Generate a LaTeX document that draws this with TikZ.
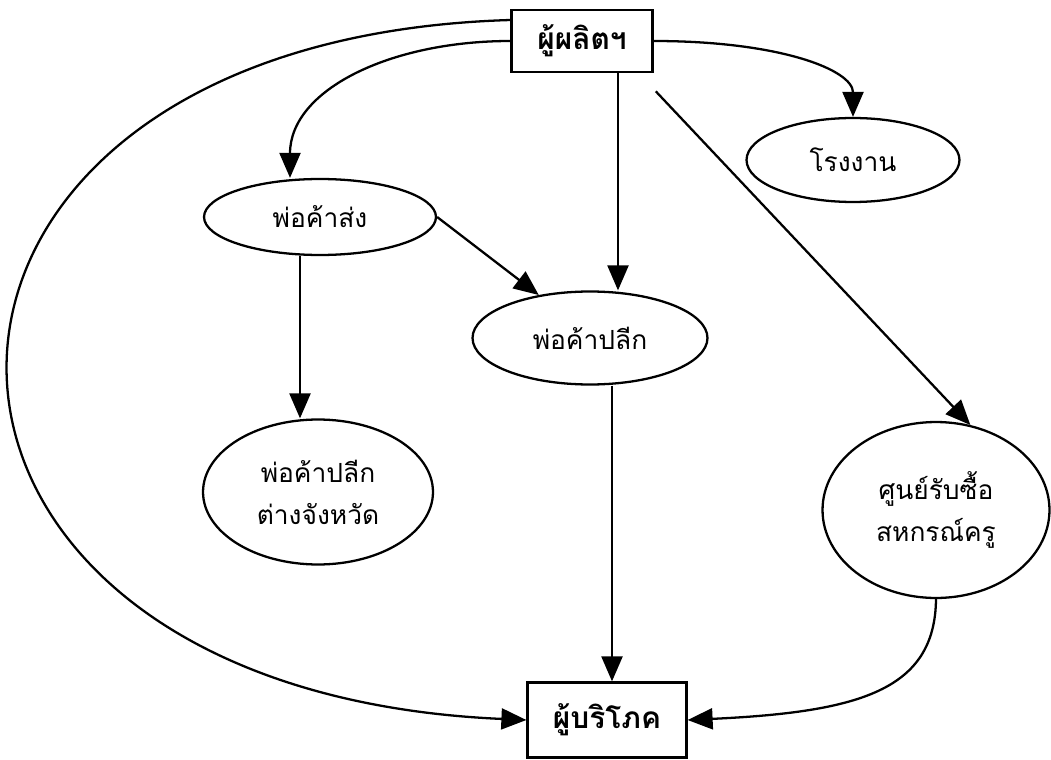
\documentclass[tikz,border=0pt]{standalone}
\usepackage{fontspec}
\newfontfamily\thaifont[Script=Thai]{Loma}
\usetikzlibrary{shapes.geometric, arrows.meta}

\begin{document}
\begin{tikzpicture}[x=0.02cm, y=-0.02cm,
    font=\thaifont\fontsize{15}{24}\selectfont,
    flow/.style={-{Triangle[length=5mm, width=4.2mm]}, line width=1.3pt},
    party/.style={draw, line width=1.3pt, ellipse, inner sep=0pt, align=center},
    endbox/.style={draw, line width=1.3pt, rectangle, inner sep=0pt,
        font=\thaifont\bfseries\fontsize{17}{24}\selectfont}]
    \useasboundingbox (0,0) rectangle (1051,760);

    % Producer and consumer
    \node[endbox, minimum width=2.82cm, minimum height=1.24cm] (maker) at (582,41) {ผู้ผลิตฯ};
    \node[endbox, minimum width=3.18cm, minimum height=1.5cm] (buyer) at (607,720) {ผู้บริโภค};

    % Middlemen
    \node[party, minimum width=4.64cm, minimum height=1.52cm] (whole) at (320,217) {พ่อค้าส่ง};
    \node[party, minimum width=4.7cm, minimum height=1.86cm] (retail) at (590,338) {พ่อค้าปลีก};
    \node[party, minimum width=4.26cm, minimum height=1.68cm] (factory) at (853,160) {โรงงาน};
    \node[party, minimum width=4.6cm, minimum height=2.9cm] (upcountry) at (318,492) {พ่อค้าปลีก\\ต่างจังหวัด};
    \node[party, minimum width=4.54cm, minimum height=3.52cm] (coop) at (936,510) {ศูนย์รับซื้อ\\สหกรณ์ครู};

    % From the producer
    \draw[flow] ([yshift=0.42cm]maker.west) .. controls (-160,40) and (-160,690) .. (buyer.west);
    \draw[flow] (maker.west) .. controls (390,41) and (290,90) .. ([xshift=-0.6cm]whole.north);
    \draw[flow] (maker.east) .. controls (780,41) and (853,70) .. (factory.north);
    \draw[flow] ([xshift=0.72cm]maker.south) -- ([xshift=0.72cm]maker.south |- retail.north);
    \draw[flow, shorten <=0.5cm] ([xshift=-0.3cm]maker.south east) -- (coop.68);

    % Between the middlemen
    \draw[flow] (whole.east) -- (retail.140);
    \draw[flow] ([xshift=-0.4cm]whole.south) -- ([xshift=-0.4cm]whole.south |- upcountry.north);

    % To the consumer
    \draw[flow] ([xshift=0.44cm]retail.south) -- ([xshift=0.44cm]retail.south |- buyer.north);
    \draw[flow] (coop.south) .. controls (935,690) and (860,712) .. (buyer.east);
\end{tikzpicture}
\end{document}
